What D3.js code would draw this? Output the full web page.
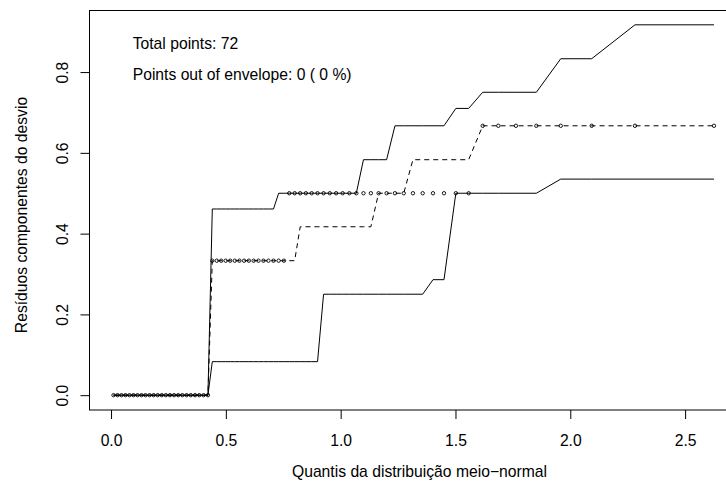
<!DOCTYPE html>
<html>
<head>
<meta charset="utf-8">
<script src="https://cdn.jsdelivr.net/npm/d3@7"></script>
<style>
  body { margin: 0; background: #fff; }
  svg { display: block; }
</style>
</head>
<body>
<div class="vis"></div>
<script>
// half-normal quantiles (theoretical), one per sorted residual
const quantis = [
  0.0108, 0.0282, 0.0455, 0.0629, 0.0803, 0.0977, 0.1152, 0.1326, 0.1501, 0.1677,
  0.1854, 0.2030, 0.2208, 0.2386, 0.2565, 0.2745, 0.2925, 0.3107, 0.3289, 0.3473,
  0.3658, 0.3844, 0.4031, 0.4220, 0.4410, 0.4603, 0.4796, 0.4992, 0.5189, 0.5389,
  0.5591, 0.5794, 0.6001, 0.6210, 0.6421, 0.6637, 0.6854, 0.7075, 0.7300, 0.7529,
  0.7761, 0.7997, 0.8238, 0.8485, 0.8736, 0.8993, 0.9256, 0.9526, 0.9802, 1.0087,
  1.0379, 1.0682, 1.0993, 1.1316, 1.1652, 1.2001, 1.2365, 1.2747, 1.3148, 1.3572,
  1.4021, 1.4500, 1.5016, 1.5574, 1.6186, 1.6866, 1.7634, 1.8522, 1.9585, 2.0932,
  2.2818, 2.6258
];

// observed residuals (circles)
const residuos = [
  0, 0, 0, 0, 0, 0, 0, 0, 0, 0,
  0, 0, 0, 0, 0, 0, 0, 0, 0, 0,
  0, 0, 0, 0, 0.333, 0.333, 0.333, 0.333, 0.333, 0.333,
  0.333, 0.333, 0.333, 0.333, 0.333, 0.333, 0.333, 0.333, 0.333, 0.333,
  0.5, 0.5, 0.5, 0.5, 0.5, 0.5, 0.5, 0.5, 0.5, 0.5,
  0.5, 0.5, 0.5, 0.5, 0.5, 0.5, 0.5, 0.5, 0.5, 0.5,
  0.5, 0.5, 0.5, 0.5, 0.667, 0.667, 0.667, 0.667, 0.667, 0.667,
  0.667, 0.667
];

// envelope: lower, mean (dashed), upper
const envInf = [
  0, 0, 0, 0, 0, 0, 0, 0, 0, 0,
  0, 0, 0, 0, 0, 0, 0, 0, 0, 0,
  0, 0, 0, 0, 0.083, 0.083, 0.083, 0.083, 0.083, 0.083,
  0.083, 0.083, 0.083, 0.083, 0.083, 0.083, 0.083, 0.083, 0.083, 0.083,
  0.083, 0.083, 0.083, 0.083, 0.083, 0.083, 0.25, 0.25, 0.25, 0.25,
  0.25, 0.25, 0.25, 0.25, 0.25, 0.25, 0.25, 0.25, 0.25, 0.25,
  0.286, 0.286, 0.5, 0.5, 0.5, 0.5, 0.5, 0.5, 0.535, 0.535,
  0.535, 0.535
];

const envMed = [
  0, 0, 0, 0, 0, 0, 0, 0, 0, 0,
  0, 0, 0, 0, 0, 0, 0, 0, 0, 0,
  0, 0, 0, 0, 0.333, 0.333, 0.333, 0.333, 0.333, 0.333,
  0.333, 0.333, 0.333, 0.333, 0.333, 0.333, 0.333, 0.333, 0.333, 0.333,
  0.333, 0.333, 0.417, 0.417, 0.417, 0.417, 0.417, 0.417, 0.417, 0.417,
  0.417, 0.417, 0.417, 0.417, 0.5, 0.5, 0.5, 0.5, 0.583, 0.583,
  0.583, 0.583, 0.583, 0.583, 0.667, 0.667, 0.667, 0.667, 0.667, 0.667,
  0.667, 0.667
];

const envSup = [
  0, 0, 0, 0, 0, 0, 0, 0, 0, 0,
  0, 0, 0, 0, 0, 0, 0, 0, 0, 0,
  0, 0, 0, 0, 0.461, 0.461, 0.461, 0.461, 0.461, 0.461,
  0.461, 0.461, 0.461, 0.461, 0.461, 0.461, 0.461, 0.461, 0.5, 0.5,
  0.5, 0.5, 0.5, 0.5, 0.5, 0.5, 0.5, 0.5, 0.5, 0.5,
  0.5, 0.5, 0.583, 0.583, 0.583, 0.583, 0.667, 0.667, 0.667, 0.667,
  0.667, 0.667, 0.71, 0.71, 0.75, 0.75, 0.75, 0.75, 0.833, 0.833,
  0.917, 0.917
];

const xTicks = [0, 0.5, 1, 1.5, 2, 2.5];
const yTicks = [0, 0.2, 0.4, 0.6, 0.8];
const legendLines = ["Total points: 72", "Points out of envelope: 0 ( 0 %)"];

const width = 726, height = 486,
    plot = {left: 89.5, right: 738, top: 10, bottom: 410},
    font = "'Liberation Sans', Arial, Helvetica, sans-serif",
    fontSize = "15.7px";

// R style 4% extension of the data range
function ext(lo, hi) {
    const d = (hi - lo) * 0.04;
    return [lo - d, hi + d];
}

const allY = residuos.concat(envInf, envMed, envSup);
const x = d3.scaleLinear()
    .domain(ext(d3.min(quantis), d3.max(quantis)))
    .range([plot.left, plot.right]);
const y = d3.scaleLinear()
    .domain(ext(d3.min(allY), d3.max(allY)))
    .range([plot.bottom, plot.top]);

let svg = d3.select(".vis")
    .append("svg")
    .attr("width", width)
    .attr("height", height)
    .style("font-family", font)
    .style("font-size", fontSize);

svg.append("rect")
    .attr("width", width)
    .attr("height", height)
    .style("fill", "#fff");

// axes
let xAxis = svg.append("g")
    .attr("transform", "translate(0," + plot.bottom + ")")
    .call(d3.axisBottom(x).tickValues(xTicks).tickFormat(d3.format(".1f")).tickSize(9).tickSizeOuter(0));
xAxis.select(".domain").remove();
xAxis.selectAll("line").attr("stroke", "#000");
xAxis.selectAll("text")
    .attr("y", 36)
    .attr("dy", 0)
    .attr("fill", "#000")
    .style("font-size", fontSize)
    .style("font-family", font);

let yAxis = svg.append("g")
    .attr("transform", "translate(" + plot.left + ",0)")
    .call(d3.axisLeft(y).tickValues(yTicks).tickFormat(d3.format(".1f")).tickSize(9).tickSizeOuter(0));
yAxis.select(".domain").remove();
yAxis.selectAll("line").attr("stroke", "#000");
yAxis.selectAll("text")
    .attr("x", 0)
    .attr("dy", 0)
    .attr("transform", "translate(-21.5,0) rotate(-90)")
    .attr("text-anchor", "middle")
    .attr("fill", "#000")
    .style("font-size", fontSize)
    .style("font-family", font);

// box
svg.append("rect")
    .attr("x", plot.left)
    .attr("y", plot.top + 0.5)
    .attr("width", plot.right - plot.left)
    .attr("height", plot.bottom - plot.top - 0.5)
    .style("fill", "none")
    .style("stroke", "#000")
    .style("stroke-width", 1);

// axis titles
svg.append("text")
    .attr("x", 419.5)
    .attr("y", 477)
    .attr("text-anchor", "middle")
    .text("Quantis da distribuição meio\u2212normal");

svg.append("text")
    .attr("transform", "translate(26.5,215) rotate(-90)")
    .attr("text-anchor", "middle")
    .text("Resíduos componentes do desvio");

// envelope lines
const line = (vals) => d3.line()
    .x((d, i) => x(quantis[i]))
    .y(d => y(d))(vals);

svg.append("path")
    .attr("d", line(envInf))
    .style("fill", "none")
    .style("stroke", "#000")
    .style("stroke-width", 1);

svg.append("path")
    .attr("d", line(envSup))
    .style("fill", "none")
    .style("stroke", "#000")
    .style("stroke-width", 1);

svg.append("path")
    .attr("d", line(envMed))
    .style("fill", "none")
    .style("stroke", "#000")
    .style("stroke-width", 1)
    .style("stroke-dasharray", "5,4");

// observed points
svg.append("g")
    .selectAll("circle")
    .data(residuos)
    .enter()
    .append("circle")
    .attr("cx", (d, i) => x(quantis[i]))
    .attr("cy", d => y(d))
    .attr("r", 1.7)
    .style("fill", "none")
    .style("stroke", "#000")
    .style("stroke-width", 0.9);

// legend text
svg.append("g")
    .selectAll("text")
    .data(legendLines)
    .enter()
    .append("text")
    .attr("x", 132.7)
    .attr("y", (d, i) => 48.6 + i * 31.6)
    .text(d => d);
</script>
</body>
</html>
